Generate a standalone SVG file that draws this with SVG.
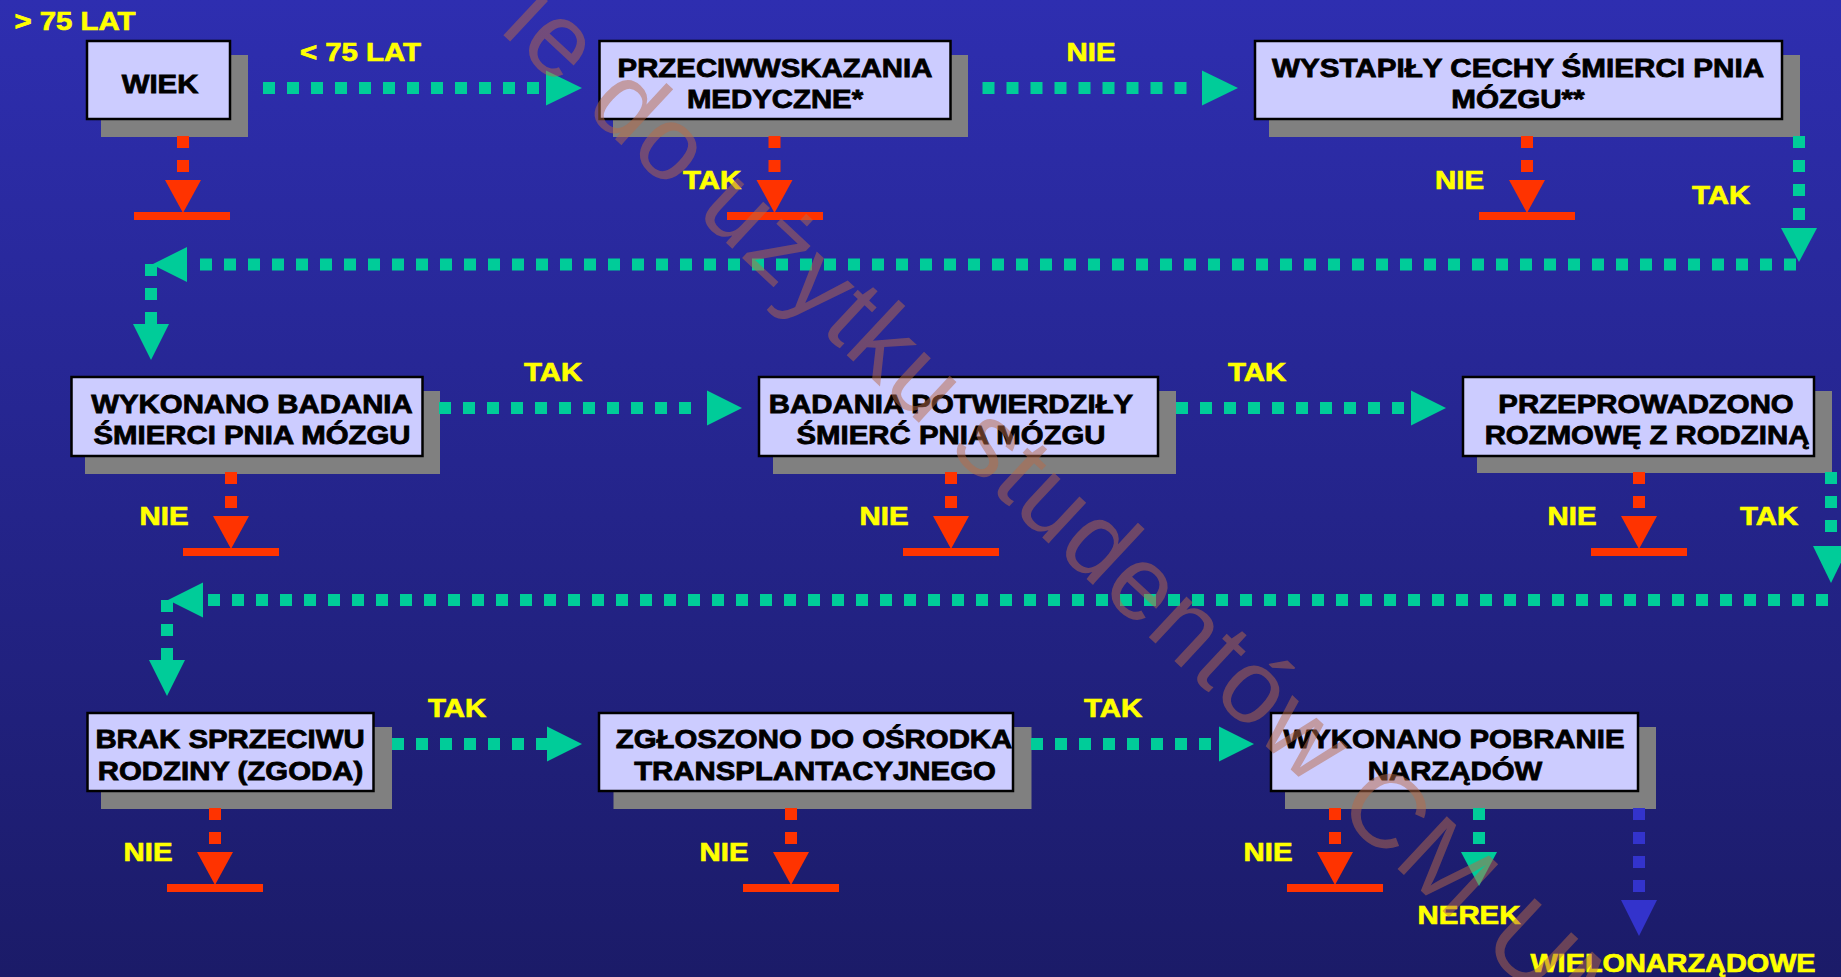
<svg xmlns="http://www.w3.org/2000/svg" width="1841" height="977" viewBox="0 0 1841 977">
<defs>
<linearGradient id="bg" x1="0" y1="0" x2="0" y2="1">
<stop offset="0" stop-color="#2E2EB0"/>
<stop offset="1" stop-color="#1B1B68"/>
</linearGradient>
<style>
.box{fill:#CCCCFF;stroke:#000;stroke-width:2.5}
.sh{fill:#808080}
.bt{font-family:"Liberation Sans",Arial,sans-serif;font-weight:bold;font-size:26px;fill:#000;stroke:#000;stroke-width:0.8;text-anchor:middle}
.lb{font-family:"Liberation Sans",Arial,sans-serif;font-weight:bold;font-size:26px;fill:#FFFF00;stroke:#FFFF00;stroke-width:0.7;text-anchor:middle}
.g{stroke:#00CC99;stroke-width:12;stroke-dasharray:12 12;fill:none}
.ga{fill:#00CC99}
.r{stroke:#FF3300;stroke-width:12;stroke-dasharray:12 12;fill:none}
.ra{fill:#FF3300}
.b{stroke:#3333CC;stroke-width:12;stroke-dasharray:12 12;fill:none}
.ba{fill:#3333CC}
.wm{font-family:"Liberation Sans",Arial,sans-serif;font-size:105px;letter-spacing:2px;fill:#B86A48;fill-opacity:0.5;text-anchor:middle}
</style>
</defs>
<rect x="0" y="0" width="1841" height="977" fill="url(#bg)"/>

<g id="n-wiek">
<rect class="sh" x="101" y="55" width="147" height="82"/>
<rect class="box" x="87" y="41" width="143" height="78"/>
<text class="bt" transform="translate(160 93) scale(1.13 1)">WIEK</text>
</g>
<g id="n-przeciw">
<rect class="sh" x="613" y="55" width="355" height="82"/>
<rect class="box" x="599.5" y="41" width="351" height="78"/>
<text class="bt" transform="translate(775 77) scale(1.13 1)">PRZECIWWSKAZANIA</text>
<text class="bt" transform="translate(775 108) scale(1.13 1)">MEDYCZNE*</text>
</g>
<g id="n-cechy">
<rect class="sh" x="1269" y="55" width="531" height="82"/>
<rect class="box" x="1255" y="41" width="527" height="78"/>
<text class="bt" transform="translate(1518 77) scale(1.14 1)">WYSTAPIŁY CECHY ŚMIERCI PNIA</text>
<text class="bt" transform="translate(1518 108) scale(1.14 1)">MÓZGU**</text>
</g>
<g id="n-badania">
<rect class="sh" x="85" y="391" width="355" height="83"/>
<rect class="box" x="71.5" y="377" width="351" height="79"/>
<text class="bt" transform="translate(252 413) scale(1.13 1)">WYKONANO BADANIA</text>
<text class="bt" transform="translate(252 444) scale(1.13 1)">ŚMIERCI PNIA MÓZGU</text>
</g>
<g id="n-potwierdzily">
<rect class="sh" x="773" y="391" width="403" height="83"/>
<rect class="box" x="759" y="377" width="399" height="79"/>
<text class="bt" transform="translate(951 413) scale(1.13 1)">BADANIA POTWIERDZIŁY</text>
<text class="bt" transform="translate(951 444) scale(1.13 1)">ŚMIERĆ PNIA MÓZGU</text>
</g>
<g id="n-rozmowa">
<rect class="sh" x="1477" y="391" width="355" height="82"/>
<rect class="box" x="1463" y="377" width="351" height="79"/>
<text class="bt" transform="translate(1646 413) scale(1.13 1)">PRZEPROWADZONO</text>
<text class="bt" transform="translate(1647 444) scale(1.13 1)">ROZMOWĘ Z RODZINĄ</text>
</g>
<g id="n-zgoda">
<rect class="sh" x="101" y="727" width="291" height="82"/>
<rect class="box" x="87.5" y="713" width="286" height="78"/>
<text class="bt" transform="translate(230 748) scale(1.13 1)">BRAK SPRZECIWU</text>
<text class="bt" transform="translate(230.5 780) scale(1.13 1)">RODZINY (ZGODA)</text>
</g>
<g id="n-zgloszono">
<rect class="sh" x="613.5" y="727" width="418" height="82"/>
<rect class="box" x="599" y="713" width="414" height="78"/>
<text class="bt" transform="translate(814 748) scale(1.13 1)">ZGŁOSZONO DO OŚRODKA</text>
<text class="bt" transform="translate(815 780) scale(1.13 1)">TRANSPLANTACYJNEGO</text>
</g>
<g id="n-pobranie">
<rect class="sh" x="1285" y="727" width="371" height="82"/>
<rect class="box" x="1271" y="713" width="367" height="78"/>
<text class="bt" transform="translate(1454 748) scale(1.13 1)">WYKONANO POBRANIE</text>
<text class="bt" transform="translate(1455 780) scale(1.13 1)">NARZĄDÓW</text>
</g>

<g id="connectors">
<line class="g" x1="263" y1="88" x2="539" y2="88"/>
<polygon class="ga" points="546,70.5 582,88 546,105.5"/>
<line class="g" x1="982.5" y1="88" x2="1196" y2="88"/>
<polygon class="ga" points="1202,70.5 1238,88 1202,105.5"/>
<line class="g" x1="1799" y1="136" x2="1799" y2="220"/>
<polygon class="ga" points="1781,228 1817,228 1799,262"/>
<line class="g" x1="200" y1="264.5" x2="1799" y2="264.5"/>
<polygon class="ga" points="187,247 187,282 152,264.5"/>
<line class="g" x1="151" y1="264" x2="151" y2="324"/>
<polygon class="ga" points="133,324 169,324 151,360"/>
<line class="g" x1="439" y1="408" x2="695" y2="408"/>
<polygon class="ga" points="707,390.5 742,408 707,425.5"/>
<line class="g" x1="1176" y1="408" x2="1404" y2="408"/>
<polygon class="ga" points="1411,390.5 1446,408 1411,425.5"/>
<line class="g" x1="1831" y1="472" x2="1831" y2="532"/>
<polygon class="ga" points="1813,546 1849,546 1831,583"/>
<line class="g" x1="208" y1="600" x2="1830" y2="600"/>
<polygon class="ga" points="203,582.5 203,617.5 168,600"/>
<line class="g" x1="167" y1="600" x2="167" y2="660"/>
<polygon class="ga" points="149,660 185,660 167,696"/>
<line class="g" x1="392" y1="744" x2="547" y2="744"/>
<polygon class="ga" points="547,726.5 582,744 547,761.5"/>
<line class="g" x1="1031" y1="744" x2="1212" y2="744"/>
<polygon class="ga" points="1219,726.5 1254,744 1219,761.5"/>
<line class="g" x1="1479" y1="808" x2="1479" y2="844"/>
<polygon class="ga" points="1461,852 1497,852 1479,886"/>
<line class="b" x1="1639" y1="808" x2="1639" y2="892"/>
<polygon class="ba" points="1621,900 1657,900 1639,936"/>
<line class="r" x1="183" y1="136" x2="183" y2="172"/>
<polygon class="ra" points="165,180 201,180 183,213"/>
<rect class="ra" x="134" y="212" width="96" height="8"/>
<line class="r" x1="774.5" y1="136" x2="774.5" y2="172"/>
<polygon class="ra" points="756.5,180 792.5,180 774.5,213"/>
<rect class="ra" x="727" y="212" width="96" height="8"/>
<line class="r" x1="1527" y1="136" x2="1527" y2="172"/>
<polygon class="ra" points="1509,180 1545,180 1527,213"/>
<rect class="ra" x="1479" y="212" width="96" height="8"/>
<line class="r" x1="231" y1="472" x2="231" y2="508"/>
<polygon class="ra" points="213,516 249,516 231,549"/>
<rect class="ra" x="183" y="548" width="96" height="8"/>
<line class="r" x1="951" y1="472" x2="951" y2="508"/>
<polygon class="ra" points="933,516 969,516 951,549"/>
<rect class="ra" x="903" y="548" width="96" height="8"/>
<line class="r" x1="1639" y1="472" x2="1639" y2="508"/>
<polygon class="ra" points="1621,516 1657,516 1639,549"/>
<rect class="ra" x="1591" y="548" width="96" height="8"/>
<line class="r" x1="215" y1="808" x2="215" y2="844"/>
<polygon class="ra" points="197,852 233,852 215,885"/>
<rect class="ra" x="167" y="884" width="96" height="8"/>
<line class="r" x1="791" y1="808" x2="791" y2="844"/>
<polygon class="ra" points="773,852 809,852 791,885"/>
<rect class="ra" x="743" y="884" width="96" height="8"/>
<line class="r" x1="1335" y1="808" x2="1335" y2="844"/>
<polygon class="ra" points="1317,852 1353,852 1335,885"/>
<rect class="ra" x="1287" y="884" width="96" height="8"/>
</g>

<g id="labels">
<text class="lb" transform="translate(75 30) scale(1.13 1)">&gt; 75 LAT</text>
<text class="lb" transform="translate(360.5 61) scale(1.13 1)">&lt; 75 LAT</text>
<text class="lb" transform="translate(1091 61) scale(1.13 1)">NIE</text>
<text class="lb" transform="translate(712 189) scale(1.13 1)">TAK</text>
<text class="lb" transform="translate(1459.5 189) scale(1.13 1)">NIE</text>
<text class="lb" transform="translate(1721 204) scale(1.13 1)">TAK</text>
<text class="lb" transform="translate(553 381) scale(1.13 1)">TAK</text>
<text class="lb" transform="translate(1257 381) scale(1.13 1)">TAK</text>
<text class="lb" transform="translate(164 525) scale(1.13 1)">NIE</text>
<text class="lb" transform="translate(884 525) scale(1.13 1)">NIE</text>
<text class="lb" transform="translate(1572 525) scale(1.13 1)">NIE</text>
<text class="lb" transform="translate(1769 525) scale(1.13 1)">TAK</text>
<text class="lb" transform="translate(457 717) scale(1.13 1)">TAK</text>
<text class="lb" transform="translate(1113 717) scale(1.13 1)">TAK</text>
<text class="lb" transform="translate(148 861) scale(1.13 1)">NIE</text>
<text class="lb" transform="translate(724 861) scale(1.13 1)">NIE</text>
<text class="lb" transform="translate(1268 861) scale(1.13 1)">NIE</text>
<text class="lb" transform="translate(1469 924) scale(1.13 1)">NEREK</text>
<text class="lb" transform="translate(1673 972) scale(1.11 1)">WIELONARZĄDOWE</text>
</g>

<g id="watermark">
<text class="wm" transform="translate(1050 545) rotate(43)">ie do użytku studentów CM UM</text>
</g>
</svg>
